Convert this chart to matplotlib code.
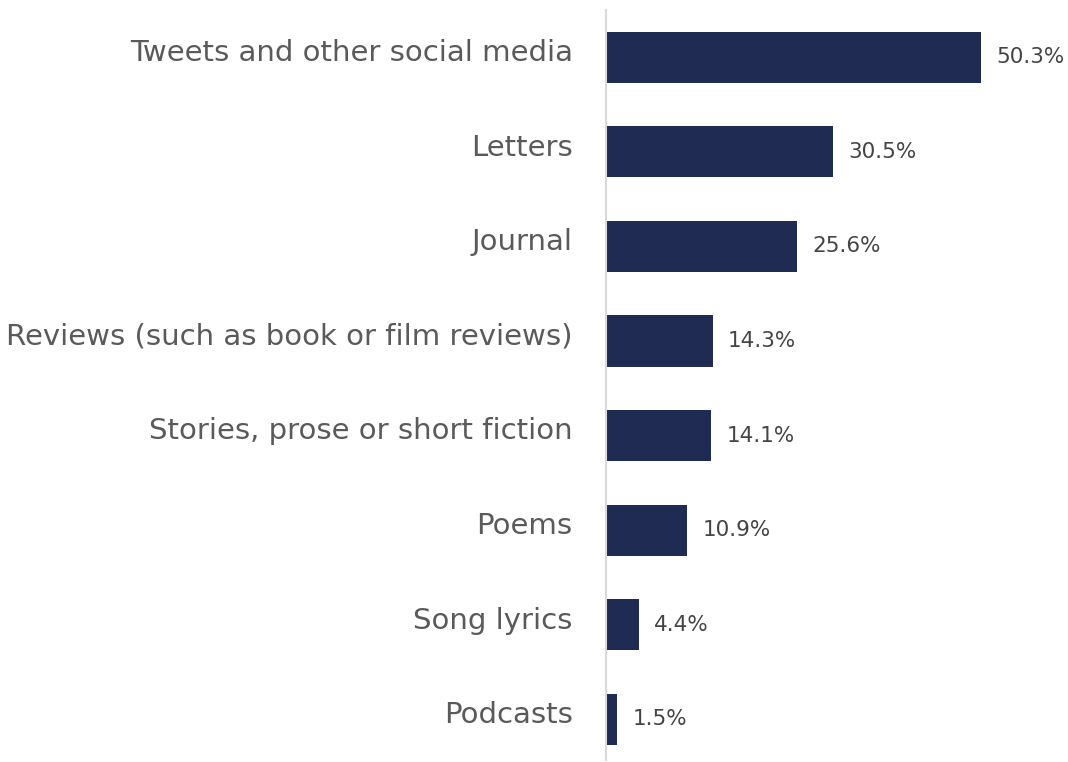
import matplotlib.pyplot as plt

categories = [
    "Tweets and other social media",
    "Letters",
    "Journal",
    "Reviews (such as book or film reviews)",
    "Stories, prose or short fiction",
    "Poems",
    "Song lyrics",
    "Podcasts",
]
values = [50.3, 30.5, 25.6, 14.3, 14.1, 10.9, 4.4, 1.5]

BAR_COLOR = "#1f2b52"

plt.rcParams["font.family"] = ["DejaVu Sans"]

fig = plt.figure(figsize=(10.68, 7.62), dpi=100)
ax = fig.add_axes([0.5674, 0.0026, 0.4326, 0.9843])

pos = list(range(len(categories)))
ax.barh(pos, values, height=0.54, color=BAR_COLOR)

for y, v in zip(pos, values):
    ax.annotate(f"{v}%", (v, y), xytext=(11, 0), textcoords="offset points",
                va="center", ha="left", fontsize=15.5, color="#444444")

# category labels, nudged up a little to sit like the original
for y, name in zip(pos, categories):
    ax.annotate(name, (0, y), xytext=(-24, 3), textcoords="offset points",
                va="center", ha="right", fontsize=21, color="#5a5a5a",
                annotation_clip=False)

ax.set_yticks([])
ax.set_xticks([])
ax.set_xlim(0, 62)
ax.set_ylim(7.43, -0.5)

for side in ["top", "right", "bottom"]:
    ax.spines[side].set_visible(False)
ax.spines["left"].set_color("#d9d9d9")
ax.spines["left"].set_linewidth(1.5)

fig.savefig("out.png", dpi=100)
